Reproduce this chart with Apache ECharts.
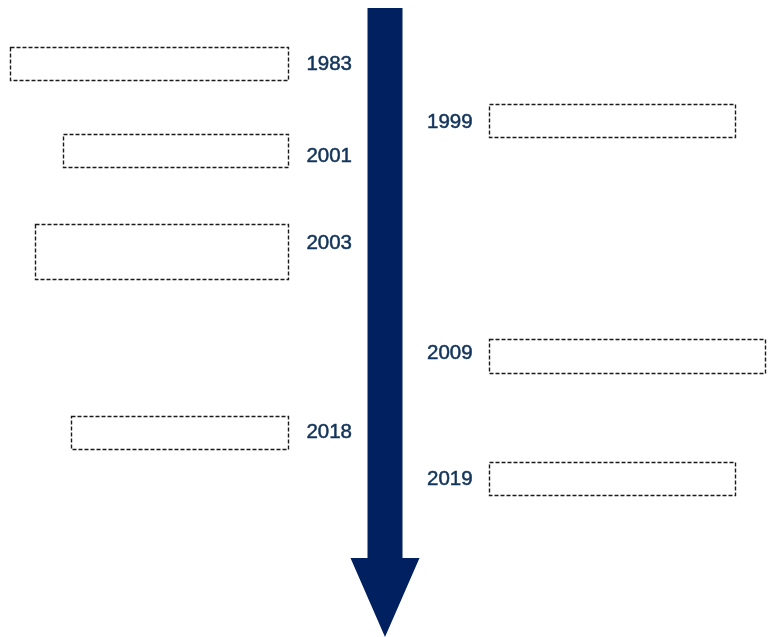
<!DOCTYPE html>
<html>
<head>
<meta charset="utf-8">
<script src="https://cdn.jsdelivr.net/npm/echarts@6/dist/echarts.min.js"></script>
<style>html,body{margin:0;padding:0;background:#fff}#c{width:772px;height:637px}</style>
</head>
<body>
<div id="c"></div>
<script>
// Timeline events
var years     = ['1983', '1999', '2001', '2003', '2009', '2018', '2019'];
var sides     = ['left', 'right', 'left', 'left', 'right', 'left', 'right'];
var labelPos  = [64, 122, 156, 243, 353, 432, 479];
var boxTop    = [47, 104, 134, 224, 339, 416, 462];
var boxBottom = [80, 137, 167, 279, 373, 449, 495];
var boxOuter  = [10, 735, 63, 35, 765, 71, 735];

var W = 772, H = 637;
var chart = echarts.init(document.getElementById('c'), null, {renderer: 'canvas'});

var ARROW = {cx: 385, top: 8, neck: 558, tip: 637, shaft: 17.5, head: 34.5};
var BOX_INNER = {left: 288, right: 489};
var LABEL_X = {left: 352, right: 427};
var TEXT_COLOR = '#12345a';

var rows = years.map(function (y, i) {
  return [i, labelPos[i], boxTop[i], boxBottom[i], boxOuter[i]];
});

chart.setOption({
  animation: false,
  grid: {left: 0, right: 0, top: 0, bottom: 0},
  xAxis: {type: 'value', min: 0, max: W, show: false},
  yAxis: {type: 'value', min: 0, max: H, inverse: true, show: false},
  series: [
    {
      type: 'custom',
      silent: true,
      data: [[ARROW.cx, ARROW.top]],
      renderItem: function (params, api) {
        var a = ARROW;
        var pts = [
          [a.cx - a.shaft, a.top], [a.cx + a.shaft, a.top], [a.cx + a.shaft, a.neck],
          [a.cx + a.head, a.neck], [a.cx, a.tip], [a.cx - a.head, a.neck], [a.cx - a.shaft, a.neck]
        ].map(function (p) { return api.coord(p); });
        return {type: 'polygon', shape: {points: pts}, style: {fill: '#002060'}};
      }
    },
    {
      type: 'custom',
      silent: true,
      data: rows,
      renderItem: function (params, api) {
        var i = api.value(0);
        var side = sides[i];
        var inner = side === 'left' ? BOX_INNER.left : BOX_INNER.right;
        var p1 = api.coord([Math.min(inner, api.value(4)), api.value(2)]);
        var p2 = api.coord([Math.max(inner, api.value(4)), api.value(3)]);
        var lp = api.coord([side === 'left' ? LABEL_X.left : LABEL_X.right, api.value(1)]);
        var x1 = Math.round(p1[0]) + 0.5, y1 = Math.round(p1[1]) + 0.5;
        var x2 = Math.round(p2[0]) + 0.5, y2 = Math.round(p2[1]) + 0.5;
        return {
          type: 'group',
          children: [
            {
              type: 'rect',
              shape: {x: x1, y: y1, width: x2 - x1, height: y2 - y1},
              style: {fill: 'none', stroke: '#1a1a1a', lineWidth: 1.4, lineDash: [4, 2]}
            },
            {
              type: 'text',
              style: {
                text: years[i], x: lp[0], y: lp[1],
                fill: TEXT_COLOR,
                stroke: TEXT_COLOR,
                lineWidth: 0.5,
                font: '20.5px "Liberation Sans", Arial, sans-serif',
                align: side === 'left' ? 'right' : 'left',
                verticalAlign: 'middle'
              }
            }
          ]
        };
      }
    }
  ]
});
</script>
</body>
</html>
